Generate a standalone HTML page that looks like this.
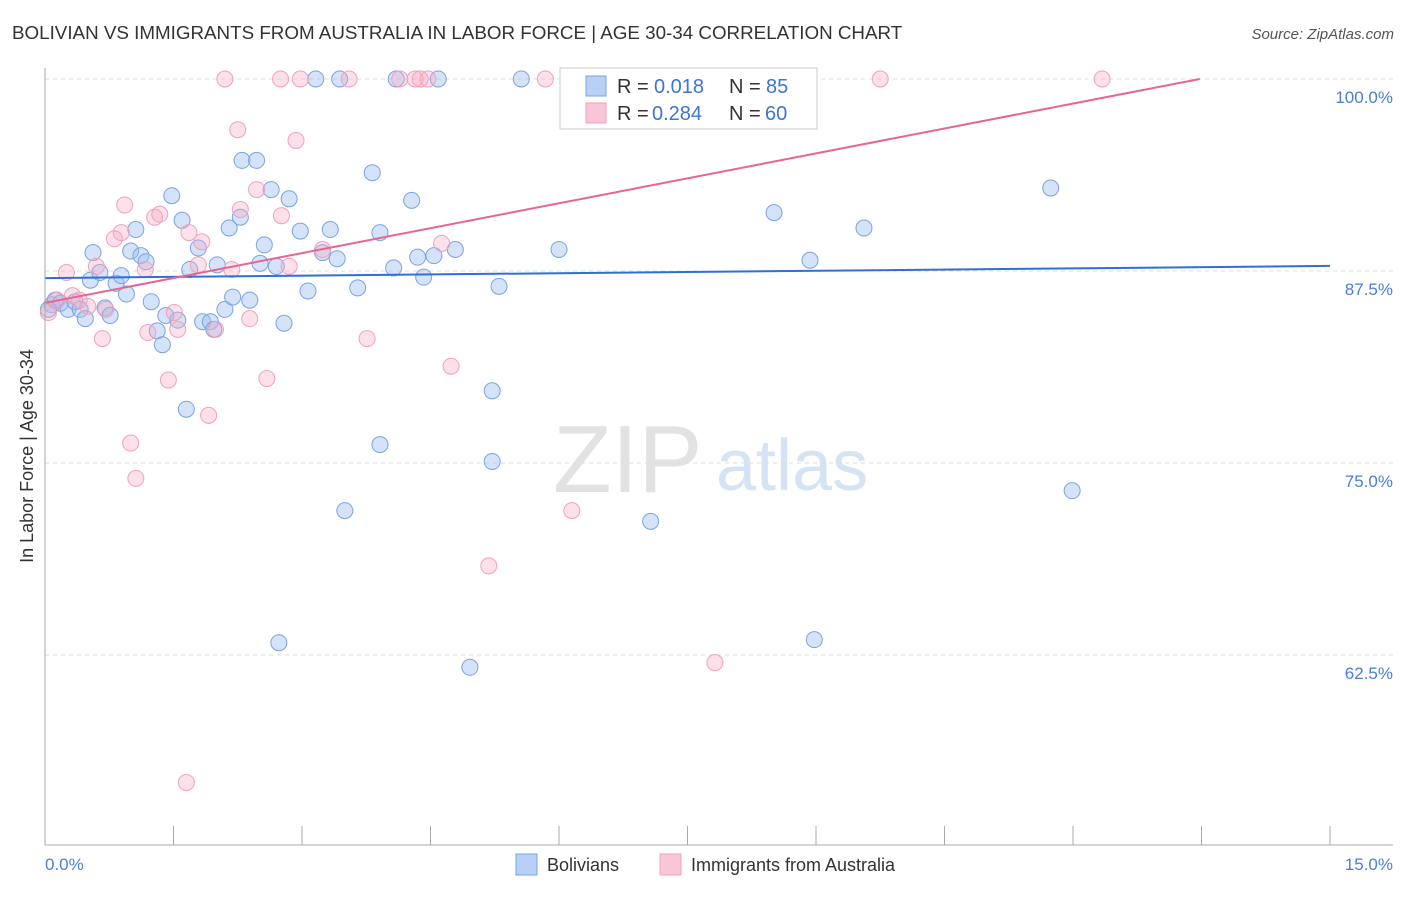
<!DOCTYPE html>
<html><head><meta charset="utf-8"><style>
body{margin:0;background:#fff;font-family:"Liberation Sans",sans-serif}
svg text{font-family:"Liberation Sans",sans-serif}
</style></head><body>
<svg id="chart" width="1406" height="892">
<text x="12" y="39" font-size="18.8" fill="#333">BOLIVIAN VS IMMIGRANTS FROM AUSTRALIA IN LABOR FORCE | AGE 30-34 CORRELATION CHART</text>
<text x="1394" y="39" font-size="15" fill="#555" font-style="italic" text-anchor="end">Source: ZipAtlas.com</text>
<g>
<text x="553" y="492" font-size="96" fill="#e2e2e2" font-family="Liberation Serif,serif">ZIP</text>
<text x="716" y="490" font-size="72" fill="#d6e3f5">atlas</text>
</g>
<g id="grid"></g><g id="pts"></g><g id="lines"></g>
<line x1="45" y1="68" x2="45" y2="845" stroke="#aaa"/>
<line x1="45" y1="845" x2="1393" y2="845" stroke="#aaa"/>
<g id="xt"></g>
<text x="33" y="456" font-size="18" fill="#333" text-anchor="middle" transform="rotate(-90 33 456)">In Labor Force | Age 30-34</text>
<text x="45" y="870" font-size="17" fill="#4a7fd6">0.0%</text>
<text x="1393" y="870" font-size="17" fill="#4a7fd6" text-anchor="end">15.0%</text>
<g>
<rect x="560" y="68" width="257" height="61" fill="#fff" stroke="#ccc"/>
<rect x="586" y="76" width="20" height="20" fill="#b8d0f5" stroke="#7aa3e0"/>
<rect x="586" y="103" width="20" height="20" fill="#f9c6d6" stroke="#f0a0bc"/>
<text x="617" y="93" font-size="20" fill="#333">R =</text>
<text x="654" y="93" font-size="20" fill="#3f74d0">0.018</text>
<text x="729" y="93" font-size="20" fill="#333">N =</text>
<text x="766" y="93" font-size="20" fill="#3f74d0">85</text>
<text x="617" y="120" font-size="20" fill="#333">R =</text>
<text x="652" y="120" font-size="20" fill="#3f74d0">0.284</text>
<text x="729" y="120" font-size="20" fill="#333">N =</text>
<text x="765" y="120" font-size="20" fill="#3f74d0">60</text>
</g>
<g>
<rect x="516" y="854" width="21" height="21" fill="#b8d0f5" stroke="#7aa3e0"/>
<text x="547" y="871" font-size="18" fill="#333">Bolivians</text>
<rect x="660" y="854" width="21" height="21" fill="#f9c6d6" stroke="#f0a0bc"/>
<text x="691" y="871" font-size="18" fill="#333">Immigrants from Australia</text>
</g>
</svg>
<script>
const yTicks=[100,87.5,75,62.5];
const yTickLabels=["100.0%","87.5%","75.0%","62.5%"];
const xTicks=[1.5,3,4.5,6,7.5,9,10.5,12,13.5,15];
const blueX=[0.08,0.12,0.18,0.27,0.35,0.41,0.47,0.53,0.56,0.64,0.70,0.76,0.83,0.89,0.95,1.00,1.06,1.12,1.18,1.24,1.31,1.37,1.41,1.48,1.55,1.60,1.65,1.69,1.79,1.84,1.93,1.97,2.01,2.10,2.15,2.19,2.28,2.30,2.39,2.47,2.51,2.56,2.64,2.70,2.79,2.73,2.85,2.98,3.07,3.16,3.24,3.33,3.41,3.44,3.50,3.65,3.82,3.91,3.91,4.07,4.10,4.28,4.35,4.42,4.54,4.59,4.79,4.96,5.22,5.22,5.30,5.56,6.00,6.43,7.07,8.11,8.51,8.93,8.98,9.56,11.74,11.99,0.04];
const blueY=[85.3,85.6,85.4,85.0,85.5,85.0,84.4,86.9,88.7,87.4,85.1,84.6,86.7,87.2,86.0,88.8,90.2,88.5,88.1,85.5,83.6,82.7,84.6,92.4,84.3,90.8,78.5,87.6,89.0,84.2,84.2,83.7,87.9,85.0,90.3,85.8,91.0,94.7,85.6,94.7,88.0,89.2,92.8,87.8,84.1,63.3,92.2,90.1,86.2,100,88.7,90.2,88.3,100,71.9,86.4,93.9,90.0,76.2,87.7,100,92.1,88.4,87.1,88.5,100,88.9,61.7,79.7,75.1,86.5,100,88.9,100,71.2,100,91.3,88.2,63.5,90.3,92.9,73.2,85.0];
const pinkX=[0.04,0.14,0.25,0.32,0.40,0.50,0.60,0.67,0.71,0.81,0.89,0.93,1.00,1.06,1.17,1.20,1.28,1.34,1.44,1.51,1.55,1.65,1.68,1.79,1.83,1.91,1.99,2.10,2.18,2.25,2.28,2.39,2.47,2.59,2.75,2.76,2.85,2.93,2.98,3.24,3.55,3.76,4.14,4.32,4.38,4.47,4.63,4.74,5.18,5.84,6.15,6.83,7.82,9.75,12.34];
const pinkY=[84.8,85.6,87.4,85.9,85.6,85.2,87.8,83.1,85.0,89.6,90.0,91.8,76.3,74.0,87.6,83.5,91.0,91.2,80.4,84.8,83.7,54.2,90.0,87.9,89.4,78.1,83.7,100,87.6,96.7,91.5,84.4,92.8,80.5,100,91.1,87.8,96.0,100,88.9,100,83.1,100,100,100,100,89.3,81.3,68.3,100,71.9,100,62.0,100,100];
const blueFit=[87.04,87.83];
const pinkFit=[85.42,1.0816];
const NS="http://www.w3.org/2000/svg";
const X=v=>45+v/15*1285, Y=v=>79+(100-v)*15.36;
function mk(t,a,p){const e=document.createElementNS(NS,t);for(const k in a)e.setAttribute(k,a[k]);p.appendChild(e);return e;}
const grid=document.getElementById('grid');
yTicks.forEach((t,i)=>{
 const l=mk('line',{x1:45,x2:1393,y1:Y(t),y2:Y(t),stroke:'#ddd','stroke-dasharray':'4,4'},grid);
 
 
 const tx=mk('text',{x:1393,y:Y(t)+24,'font-size':17,fill:'#4a7fd6','text-anchor':'end'},grid);
 tx.textContent=yTickLabels[i];
 
 
});
const xt=document.getElementById('xt');
xTicks.forEach(t=>{
 const l=mk('line',{x1:X(t),x2:X(t),y1:826,y2:845,stroke:'#aaa'},xt);
 
 
});
const pts=document.getElementById('pts');
blueX.forEach((x,i)=>{
 const c=mk('circle',{cx:X(x),cy:Y(blueY[i]),r:8,fill:'rgba(160,192,240,0.45)',stroke:'#7aa3e0','stroke-width':1},pts);
 
 
});
pinkX.forEach((x,i)=>{
 const c=mk('circle',{cx:X(x),cy:Y(pinkY[i]),r:8,fill:'rgba(245,170,195,0.35)',stroke:'#f0a0bc','stroke-width':1},pts);
 
 
});
const lines=document.getElementById('lines');
const bl=mk('line',{x1:X(0),y1:Y(blueFit[0]),x2:X(15),y2:Y(blueFit[1]),stroke:'#2f6fd6','stroke-width':2},lines);


const xe=Math.min(15,(100-pinkFit[0])/pinkFit[1]);
const pl=mk('line',{x1:X(0),y1:Y(pinkFit[0]),x2:X(xe),y2:Y(pinkFit[0]+pinkFit[1]*xe),stroke:'#e8658f','stroke-width':2},lines);


</script>
</body></html>
